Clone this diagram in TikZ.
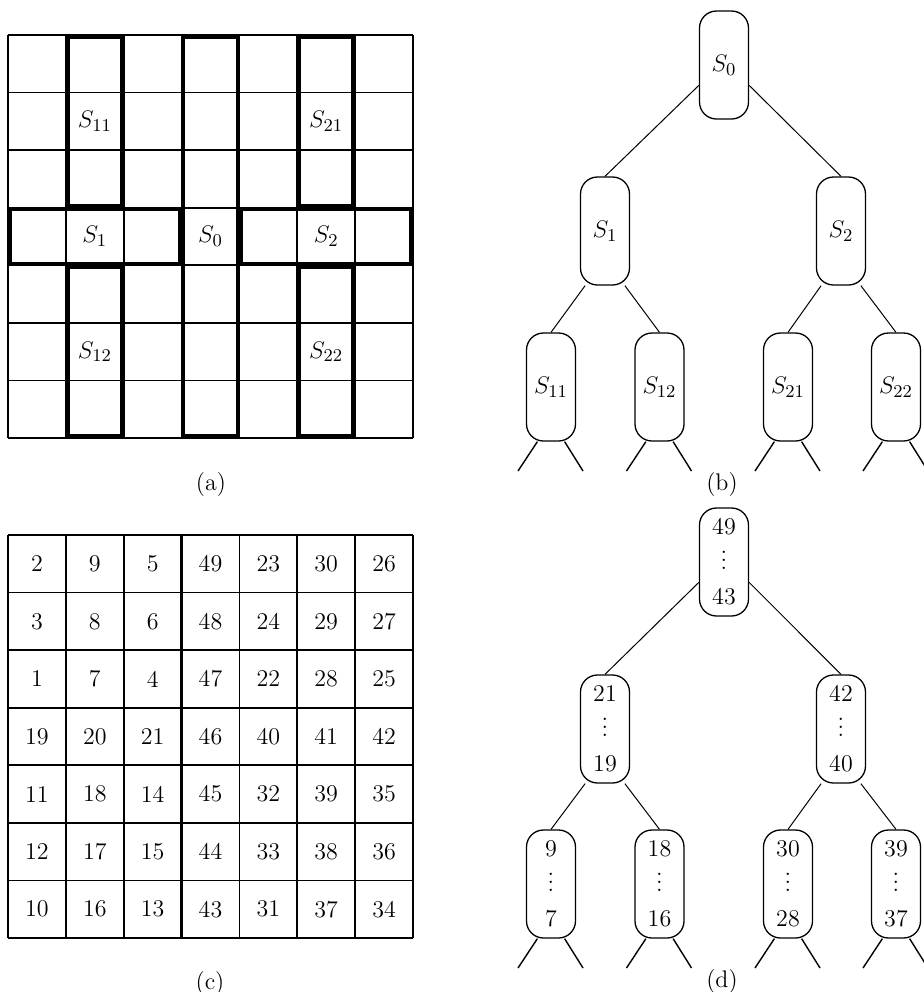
\documentclass[tikz,border=0pt]{standalone}
\usepackage{amsmath}
\usetikzlibrary{calc}

\tikzset{
  gridline/.style={line width=0.85pt},
  blockline/.style={line width=1.75pt},
  blob/.style={draw, line width=0.65pt, rounded corners=8.5pt, minimum width=24.5pt,
    minimum height=54pt, inner sep=0pt, font=\fontsize{12.5}{14}\selectfont},
  numblob/.style={blob, align=center, font=\fontsize{12}{17.5}\selectfont},
  branch/.style={line width=0.5pt},
  stub/.style={line width=0.7pt},
  caption/.style={inner sep=0pt},
}

\begin{document}
\begin{tikzpicture}[x=0.5pt,y=-0.5pt,font=\fontsize{12}{14}\selectfont]
  \useasboundingbox (0,0) rectangle (923,992);

  % (a) grid with the separator blocks
  \foreach \i in {0,...,7} {
    \draw[gridline] ({8+57.857*\i},35) -- ({8+57.857*\i},438);
    \draw[gridline] (8,{35+57.57*\i}) -- (413,{35+57.57*\i});
  }
  \draw[blockline] (67.9,37) rectangle (121.7,205.7);
  \draw[blockline] (67.9,267.3) rectangle (121.7,436);
  \draw[blockline] (299.3,37) rectangle (353.1,205.7);
  \draw[blockline] (299.3,267.3) rectangle (353.1,436);
  \draw[blockline] (183.6,37) rectangle (237.4,436);
  \draw[blockline] (10.5,209.7) rectangle (179.6,263.3);
  \draw[blockline] (241.4,209.7) rectangle (410.5,263.3);
  \node[font=\fontsize{12.5}{14}\selectfont] (a11) at (94.8,121.4) {$S_{11}$};
  \node[font=\fontsize{12.5}{14}\selectfont] (a21) at (326.2,121.4) {$S_{21}$};
  \node[font=\fontsize{12.5}{14}\selectfont] (a1)  at (94.8,236.5) {$S_1$};
  \node[font=\fontsize{12.5}{14}\selectfont] (a0)  at (210.5,236.5) {$S_0$};
  \node[font=\fontsize{12.5}{14}\selectfont] (a2)  at (326.2,236.5) {$S_2$};
  \node[font=\fontsize{12.5}{14}\selectfont] (a12) at (94.8,351.7) {$S_{12}$};
  \node[font=\fontsize{12.5}{14}\selectfont] (a22) at (326.2,351.7) {$S_{22}$};
  \node[caption] (capa) at (211,485) {(a)};

  % (b) separator tree
  \node[blob] (b0)  at (724,65)  {$S_0$};
  \node[blob] (b1)  at (605,231) {$S_1$};
  \node[blob] (b2)  at (841,231) {$S_2$};
  \node[blob] (b11) at (551,387) {$S_{11}$};
  \node[blob] (b12) at (659.5,387) {$S_{12}$};
  \node[blob] (b21) at (788,387) {$S_{21}$};
  \node[blob] (b22) at (896,387) {$S_{22}$};
  \node[caption] (capb) at (722,485) {(b)};

  % (c) numbering of the grid
  \foreach \i in {0,...,7} {
    \draw[gridline] ({8+57.857*\i},535) -- ({8+57.857*\i},938);
    \draw[gridline] (8,{535+57.57*\i}) -- (413,{535+57.57*\i});
  }
  \draw[line width=1.2pt] (181.6,535) -- (181.6,938);
  \draw[line width=1.2pt] (8,707.7) -- (413,707.7);
  \foreach \row [count=\j from 0] in {{2,9,5,49,23,30,26},{3,8,6,48,24,29,27},
      {1,7,4,47,22,28,25},{19,20,21,46,40,41,42},{11,18,14,45,32,39,35},
      {12,17,15,44,33,38,36},{10,16,13,43,31,37,34}} {
    \foreach \v [count=\i from 0] in \row {
      \node (c-\i-\j) at ({8+57.857*(\i+0.5)},{535+57.57*(\j+0.5)}) {\v};
    }
  }
  \node[caption] (capc) at (210,983) {(c)};

  % (d) tree with the numbers
  \node[numblob] (d0)  at (724,562)   {49\\$\vdots$\\43};
  \node[numblob] (d1)  at (605,729)   {21\\$\vdots$\\19};
  \node[numblob] (d2)  at (841,729)   {42\\$\vdots$\\40};
  \node[numblob] (d11) at (551,884)   {9\\$\vdots$\\7};
  \node[numblob] (d12) at (659.5,884) {18\\$\vdots$\\16};
  \node[numblob] (d21) at (788,884)   {30\\$\vdots$\\28};
  \node[numblob] (d22) at (896,884)   {39\\$\vdots$\\37};
  \node[caption] (capd) at (722,981) {(d)};

  % branches
  \foreach \t in {b,d} {
    \draw[branch] (\t0.219) -- (\t1.north);
    \draw[branch] (\t0.321) -- (\t2.north);
    \draw[branch] (\t1.250) -- (\t11.north);
    \draw[branch] (\t1.290) -- (\t12.north);
    \draw[branch] (\t2.250) -- (\t21.north);
    \draw[branch] (\t2.290) -- (\t22.north);
  }
  \foreach \n in {b11,b12,b21,b22,d11,d12,d21,d22} {
    \coordinate (\n-l) at ($(\n)+(-33,84)$);
    \coordinate (\n-r) at ($(\n)+(32,84)$);
    \draw[stub] (\n.256) -- (\n-l);
    \draw[stub] (\n.284) -- (\n-r);
  }
\end{tikzpicture}
\end{document}
